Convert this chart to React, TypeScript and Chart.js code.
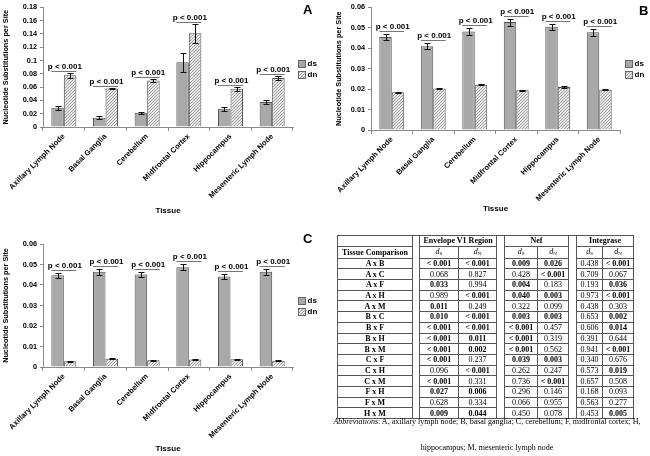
import React, { useEffect, useRef } from "react";
import { Chart, registerables } from "chart.js";
Chart.register(...registerables);

const tissues = ["Axillary Lymph Node", "Basal Ganglia", "Cerebellum", "Midfrontal Cortex", "Hippocampus", "Mesenteric Lymph Node"];
const seriesNames = ["ds", "dn"];
const pLabel = "p < 0.001";
const xTitle = "Tissue";
const yTitle = "Nucleotide Substitutions per Site";

// Panel A (Envelope V1)
const envDs = [0.0288, 0.0140, 0.0215, 0.0975, 0.0273, 0.0375];
const envDsErr = [0.0032, 0.0022, 0.0012, 0.0145, 0.0028, 0.0030];
const envDn = [0.0780, 0.0580, 0.0700, 0.1410, 0.0576, 0.0738];
const envDnErr = [0.0040, 0.0012, 0.0022, 0.0145, 0.0032, 0.0035];
// Panel B (Nef)
const nefDs = [0.0455, 0.0410, 0.0482, 0.0528, 0.0505, 0.0478];
const nefDsErr = [0.0017, 0.0015, 0.0018, 0.0017, 0.0016, 0.0016];
const nefDn = [0.0185, 0.0203, 0.0222, 0.0195, 0.0210, 0.0197];
const nefDnErr = [0.0003, 0.0003, 0.0003, 0.0003, 0.0003, 0.0003];
// Panel (Integrase)
const intDs = [0.0447, 0.0465, 0.0451, 0.0486, 0.0442, 0.0465];
const intDsErr = [0.0013, 0.0014, 0.0011, 0.0015, 0.0013, 0.0014];
const intDn = [0.0028, 0.0040, 0.0033, 0.0036, 0.0038, 0.0031];
const intDnErr = [0.0002, 0.0002, 0.0002, 0.0002, 0.0002, 0.0002];

// Table C
const comparisons = ["A x B", "A x C", "A x F", "A x H", "A x M", "B x C", "B x F", "B x H", "B x M", "C x F", "C x H", "C x M", "F x H", "F x M", "H x M"];
const envDsP = ["< 0.001", "0.068", "0.033", "0.989", "0.011", "0.010", "< 0.001", "< 0.001", "< 0.001", "< 0.001", "0.096", "< 0.001", "0.027", "0.628", "0.009"];
const envDnP = ["< 0.001", "0.827", "0.994", "< 0.001", "0.249", "< 0.001", "< 0.001", "0.011", "0.002", "0.237", "< 0.001", "0.331", "0.006", "0.334", "0.044"];
const nefDsP = ["0.009", "0.428", "0.004", "0.040", "0.322", "0.003", "< 0.001", "< 0.001", "< 0.001", "0.039", "0.262", "0.736", "0.296", "0.066", "0.450"];
const nefDnP = ["0.026", "< 0.001", "0.183", "0.003", "0.099", "0.003", "0.457", "0.319", "0.562", "0.003", "0.247", "< 0.001", "0.146", "0.955", "0.078"];
const intDsP = ["0.438", "0.709", "0.193", "0.973", "0.438", "0.653", "0.606", "0.391", "0.941", "0.340", "0.573", "0.657", "0.168", "0.563", "0.453"];
const intDnP = ["< 0.001", "0.067", "0.036", "< 0.001", "0.303", "0.002", "0.014", "0.644", "< 0.001", "0.676", "0.019", "0.508", "0.093", "0.277", "0.005"];
const regionNames = ["Envelope V1 Region", "Nef", "Integrase"];

const SANS = '"Liberation Sans", Arial, sans-serif';
const SERIF = '"Liberation Serif", "Times New Roman", serif';
const DS_FILL = "#a9a9a9";
const BAR_BORDER = "#555555";

function makeHatch(): CanvasPattern | string {
  const c = document.createElement("canvas");
  c.width = 3;
  c.height = 3;
  const g = c.getContext("2d");
  if (!g) return "#d0d0d0";
  g.fillStyle = "#e6e6e6";
  g.fillRect(0, 0, 3, 3);
  g.fillStyle = "#a4a4a4";
  for (let i = 0; i < 3; i++) g.fillRect(i, 2 - i, 1, 1);
  return g.createPattern(c, "repeat") || "#d0d0d0";
}

type PanelProps = {
  left: number; top: number; width: number; height: number;
  ds: number[]; dsErr: number[]; dn: number[]; dnErr: number[];
  yMax: number; yStep: number;
  padTop: number; yWidth: number; plotRight: number; plotBottom: number; sigGap: number;
};

function BarPanel(p: PanelProps) {
  const ref = useRef<HTMLCanvasElement>(null);
  useEffect(() => {
    const canvas = ref.current;
    if (!canvas) return;
    const hatch = makeHatch();
    const errs = [p.dsErr, p.dnErr];
    const vals = [p.ds, p.dn];
    const fills: any[] = [DS_FILL, hatch];
    const extras = {
      id: "extras",
      afterDatasetsDraw(chart: any) {
        const ctx = chart.ctx;
        const ys = chart.scales.y;
        ctx.save();
        ctx.lineWidth = 1;
        ctx.strokeStyle = "#111";
        vals.forEach((arr, i) => {
          const meta = chart.getDatasetMeta(i);
          meta.data.forEach((bar: any, j: number) => {
            const v = arr[j];
            const e = errs[i][j];
            const x = Math.round(bar.x) + 0.5;
            const y1 = Math.round(ys.getPixelForValue(v + e)) + 0.5;
            const y2 = Math.round(ys.getPixelForValue(v - e)) + 0.5;
            ctx.beginPath();
            ctx.moveTo(x, y1); ctx.lineTo(x, y2);
            ctx.moveTo(x - 3, y1); ctx.lineTo(x + 3, y1);
            ctx.moveTo(x - 3, y2); ctx.lineTo(x + 3, y2);
            ctx.stroke();
          });
        });
        const m0 = chart.getDatasetMeta(0);
        const m1 = chart.getDatasetMeta(1);
        tissues.forEach((_, j) => {
          const topVal = Math.max(p.ds[j] + p.dsErr[j], p.dn[j] + p.dnErr[j]);
          const py = Math.round(ys.getPixelForValue(topVal) - p.sigGap) + 0.5;
          const b0 = m0.data[j];
          const b1 = m1.data[j];
          const xl = b0.x - b0.width / 2;
          const xr = b1.x + b1.width / 2;
          ctx.strokeStyle = "#777";
          ctx.beginPath();
          ctx.moveTo(xl, py); ctx.lineTo(xr, py);
          ctx.stroke();
          ctx.fillStyle = "#000";
          ctx.font = `bold 8px ${SANS}`;
          ctx.textAlign = "center";
          ctx.textBaseline = "alphabetic";
          ctx.fillText(pLabel, (xl + xr) / 2 + 1, py - 3);
        });
        // legend
        const ca = chart.chartArea;
        const lx = Math.round(ca.right + 5) + 0.5;
        seriesNames.forEach((name, i) => {
          const cy = ca.top + 56 + i * 11;
          const sy = Math.round(cy - 3.5) + 0.5;
          ctx.fillStyle = fills[i];
          ctx.fillRect(lx, sy, 7, 7);
          ctx.strokeStyle = "#666";
          ctx.strokeRect(lx, sy, 7, 7);
          ctx.fillStyle = "#000";
          ctx.font = `bold 8px ${SANS}`;
          ctx.textAlign = "left";
          ctx.textBaseline = "middle";
          ctx.fillText(name, lx + 9, cy + 0.5);
        });
        ctx.restore();
      },
    };
    const chart = new Chart(canvas, {
      type: "bar",
      data: {
        labels: tissues,
        datasets: [
          { label: seriesNames[0], data: p.ds, backgroundColor: DS_FILL, borderColor: BAR_BORDER, borderWidth: 1, categoryPercentage: 0.6, barPercentage: 1 },
          { label: seriesNames[1], data: p.dn, backgroundColor: hatch as any, borderColor: BAR_BORDER, borderWidth: 1, categoryPercentage: 0.6, barPercentage: 1 },
        ],
      },
      options: {
        animation: false,
        responsive: false,
        maintainAspectRatio: false,
        layout: { padding: { left: 0, top: p.padTop, right: p.width - p.plotRight, bottom: 0 } },
        plugins: { legend: { display: false }, tooltip: { enabled: false } },
        scales: {
          x: {
            grid: { display: true, drawOnChartArea: false, drawTicks: true, tickLength: 4, color: "#8a8a8a" },
            border: { color: "#8a8a8a" },
            ticks: { autoSkip: false, maxRotation: 45, minRotation: 45, padding: 1, color: "#000", font: { family: SANS, size: 7.6, weight: "bold" } },
            title: { display: true, text: xTitle, color: "#000", font: { family: SANS, size: 8, weight: "bold" }, padding: { top: 0, bottom: 2 } },
            afterFit: (s: any) => { s.height = p.height - p.plotBottom; },
          },
          y: {
            min: 0,
            max: p.yMax,
            grid: { display: true, drawOnChartArea: false, drawTicks: true, tickLength: 3, color: "#8a8a8a" },
            border: { color: "#8a8a8a" },
            ticks: {
              stepSize: p.yStep,
              padding: 3,
              color: "#000",
              font: { family: SANS, size: 7.3, weight: "bold" },
              callback: (v: any) => String(Number(Number(v).toFixed(4))),
            },
            title: { display: true, text: yTitle, color: "#000", font: { family: SANS, size: 7.3, weight: "bold" }, padding: { top: 2, bottom: 0 } },
            afterFit: (s: any) => { s.width = p.yWidth; },
          },
        },
      } as any,
      plugins: [extras],
    });
    return () => chart.destroy();
  }, []);
  return (
    <canvas
      ref={ref}
      width={p.width}
      height={p.height}
      style={{ position: "absolute", left: p.left, top: p.top, width: p.width, height: p.height }}
    />
  );
}

const isBold = (s: string) => s.startsWith("<") || parseFloat(s) < 0.05;

function PTable() {
  const bd = "1px solid #555";
  const cols = [75, 7, 39, 38, 8, 33, 31, 8, 26, 31];
  const rowH = 10.7;
  const cell: React.CSSProperties = { border: bd, padding: 0, textAlign: "center", lineHeight: "9px", whiteSpace: "nowrap", overflow: "hidden" };
  const spacer: React.CSSProperties = { borderLeft: bd, borderRight: bd, borderTop: bd, borderBottom: bd, padding: 0 };
  const cols6 = [envDsP, envDnP, nefDsP, nefDnP, intDsP, intDnP];
  const dHead = (sub: string) => (
    <span><i>d</i><span style={{ fontSize: 5, verticalAlign: "-1px" }}>{sub}</span></span>
  );
  return (
    <table
      style={{
        position: "absolute", left: 337, top: 235, width: 296, borderCollapse: "collapse", tableLayout: "fixed",
        fontFamily: SERIF, fontSize: 8, color: "#000",
      }}
    >
      <colgroup>
        {cols.map((w, i) => <col key={i} style={{ width: w }} />)}
      </colgroup>
      <tbody>
        <tr style={{ height: rowH }}>
          <td style={cell}></td>
          <td style={spacer} rowSpan={17}></td>
          <td style={{ ...cell, fontWeight: "bold" }} colSpan={2}>{regionNames[0]}</td>
          <td style={spacer} rowSpan={17}></td>
          <td style={{ ...cell, fontWeight: "bold" }} colSpan={2}>{regionNames[1]}</td>
          <td style={spacer} rowSpan={17}></td>
          <td style={{ ...cell, fontWeight: "bold" }} colSpan={2}>{regionNames[2]}</td>
        </tr>
        <tr style={{ height: rowH }}>
          <td style={{ ...cell, fontWeight: "bold" }}>Tissue Comparison</td>
          <td style={cell}>{dHead("S")}</td>
          <td style={cell}>{dHead("N")}</td>
          <td style={cell}>{dHead("S")}</td>
          <td style={cell}>{dHead("N")}</td>
          <td style={cell}>{dHead("S")}</td>
          <td style={cell}>{dHead("N")}</td>
        </tr>
        {comparisons.map((c, r) => (
          <tr key={c} style={{ height: rowH }}>
            <td style={{ ...cell, fontWeight: "bold" }}>{c}</td>
            {cols6.map((col, k) => (
              <td key={k} style={{ ...cell, fontWeight: isBold(col[r]) ? "bold" : "normal" }}>{col[r]}</td>
            ))}
          </tr>
        ))}
      </tbody>
    </table>
  );
}

const letter = (t: string, left: number, top: number) => (
  <div style={{ position: "absolute", left, top, fontFamily: SANS, fontWeight: "bold", fontSize: 13, lineHeight: "13px", color: "#000" }}>{t}</div>
);

export default function App() {
  return (
    <div style={{ position: "absolute", left: 0, top: 0, width: 650, height: 456, background: "#fff", overflow: "hidden" }}>
      <BarPanel left={0} top={0} width={328} height={218} ds={envDs} dsErr={envDsErr} dn={envDn} dnErr={envDnErr}
        yMax={0.18} yStep={0.02} padTop={4} yWidth={43} plotRight={293} plotBottom={127} sigGap={2} />
      <BarPanel left={333} top={0} width={317} height={216} ds={nefDs} dsErr={nefDsErr} dn={nefDn} dnErr={nefDnErr}
        yMax={0.06} yStep={0.01} padTop={6} yWidth={38} plotRight={287} plotBottom={130} sigGap={3} />
      <BarPanel left={0} top={222} width={328} height={234} ds={intDs} dsErr={intDsErr} dn={intDn} dnErr={intDnErr}
        yMax={0.06} yStep={0.01} padTop={22} yWidth={43} plotRight={293} plotBottom={145} sigGap={3} />
      {letter("A", 303, 3)}
      {letter("B", 639, 4)}
      {letter("C", 303, 232)}
      <PTable />
      <div style={{ position: "absolute", left: 328, top: 416, width: 318, textAlign: "center", fontFamily: SERIF, fontSize: 8, color: "#000", whiteSpace: "nowrap" }}>
        <div style={{ lineHeight: "12px" }}><i>Abbreviations</i>: A, axillary lymph node; B, basal ganglia; C, cerebellum; F, midfrontal cortex; H,</div>
        <div style={{ lineHeight: "12px", marginTop: 14 }}>hippocampus; M, mesenteric lymph node</div>
      </div>
    </div>
  );
}
